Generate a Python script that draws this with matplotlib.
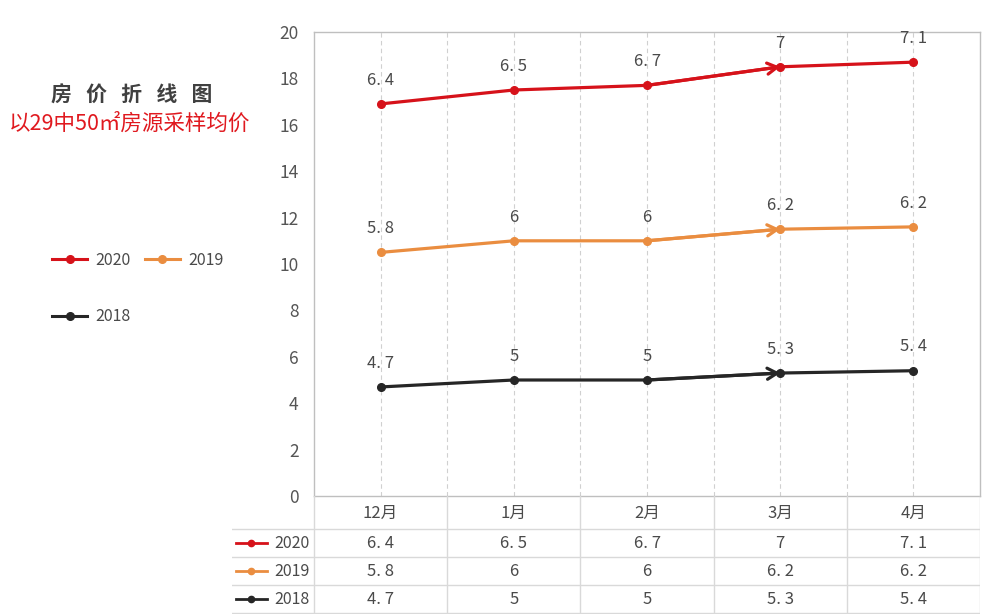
import matplotlib
matplotlib.use('Agg')
import matplotlib.pyplot as plt
import numpy as np
from matplotlib.lines import Line2D

plt.rcParams['font.family'] = ['Noto Sans CJK SC', 'DejaVu Sans']

# Data
months = ['12月', '1月', '2月', '3月', '4月']
years = ['2020', '2019', '2018']
# heights of the points as drawn on the y axis
pos_2020 = [16.9, 17.5, 17.7, 18.5, 18.7]
pos_2019 = [10.5, 11.0, 11.0, 11.5, 11.6]
pos_2018 = [4.7, 5.0, 5.0, 5.3, 5.4]
# prices shown in the labels and the table
price_2020 = [6.4, 6.5, 6.7, 7, 7.1]
price_2019 = [5.8, 6, 6, 6.2, 6.2]
price_2018 = [4.7, 5, 5, 5.3, 5.4]

positions = [pos_2020, pos_2019, pos_2018]
prices = [price_2020, price_2019, price_2018]
colors = ['#d6121a', '#ea8d40', '#262626']
text_c = '#4a4a4a'
grid_c = '#d0d0d0'


def fmt(v):
    return f'{v:g}'.replace('.', '. ')


fig = plt.figure(figsize=(10, 6.14), dpi=100)

# Main plot
ax = fig.add_axes([0.314, 118 / 614, 0.666, 464 / 614])
x = np.arange(len(months))
ax.set_xlim(-0.5, 4.5)
ax.set_ylim(0, 20)
ax.set_yticks(range(0, 21, 2))
ax.set_xticks([])
ax.tick_params(axis='y', length=0, pad=11, labelsize=12.5, labelcolor='#555555')
for s in ax.spines.values():
    s.set_color('#bfbfbf')
    s.set_linewidth(1)
for g in np.arange(0, 4.01, 0.5):
    ax.axvline(g, color=grid_c, lw=0.8, ls=(0, (4, 3)), zorder=0)

for year, p, pr, c in zip(years, positions, prices, colors):
    ax.plot(x, p, color=c, lw=2.3, marker='o', ms=5.5, label=year, zorder=3)
    ax.annotate('', xy=(x[3], p[3]), xytext=(x[2], p[2]),
                arrowprops=dict(arrowstyle='->,head_length=0.7,head_width=0.4',
                                color=c, lw=2.3, shrinkA=0, shrinkB=0), zorder=3)
    for xi, yi, v in zip(x, p, pr):
        ax.annotate(fmt(v), (xi, yi), xytext=(0, 11), textcoords='offset points',
                    ha='center', va='bottom', fontsize=12, color=text_c)

# Legend on the left
h = {year: Line2D([], [], color=c, lw=2.2, marker='o', ms=5.5)
     for year, c in zip(years, colors)}
fig.legend([h['2020'], h['2018'], h['2019']], ['2020', '2018', '2019'],
           ncol=2, loc='upper left', bbox_to_anchor=(0.052, 1 - 252 / 614),
           frameon=False, fontsize=11.5, labelcolor=text_c, handlelength=2.2,
           handletextpad=0.5, columnspacing=0.9, labelspacing=2.45,
           borderpad=0, borderaxespad=0)

# Titles
fig.text(0.132, 1 - 95 / 614, '房   价   折   线   图', ha='center', va='center',
         fontsize=15, fontweight='bold', color='#404040')
fig.text(0.13, 1 - 124 / 614, '以29中50㎡房源采样均价', ha='center', va='center',
         fontsize=15.5, color='#e0191f')

# Data table under the plot
tax = fig.add_axes([0.232, 0, 0.748, 118 / 614])
left = -0.5 - 82 / 133.2
tax.set_xlim(left, 4.5)
tax.set_ylim(118, 0)
tax.axis('off')
row_lines = [33, 61, 89, 117]
row_mid = [47, 75, 103]
for yl in row_lines:
    tax.plot([left, 4.5], [yl, yl], color='#d9d9d9', lw=1)
for xl in np.arange(-0.5, 4.51, 1):
    tax.plot([xl, xl], [0, 118], color='#d9d9d9', lw=1)
for xi, m in zip(x, months):
    tax.text(xi, 17, m, ha='center', va='center', fontsize=12, color=text_c)
for year, pr, c, ym in zip(years, prices, colors, row_mid):
    tax.plot([left + 0.03, left + 0.26], [ym, ym], color=c, lw=2)
    tax.plot([left + 0.145], [ym], color=c, marker='o', ms=4.5)
    tax.text(-0.53, ym, year, ha='right', va='center', fontsize=11.5, color=text_c)
    for xi, v in zip(x, pr):
        tax.text(xi, ym, fmt(v), ha='center', va='center', fontsize=12, color=text_c)

fig.savefig('out.png', dpi=100, facecolor='white')
